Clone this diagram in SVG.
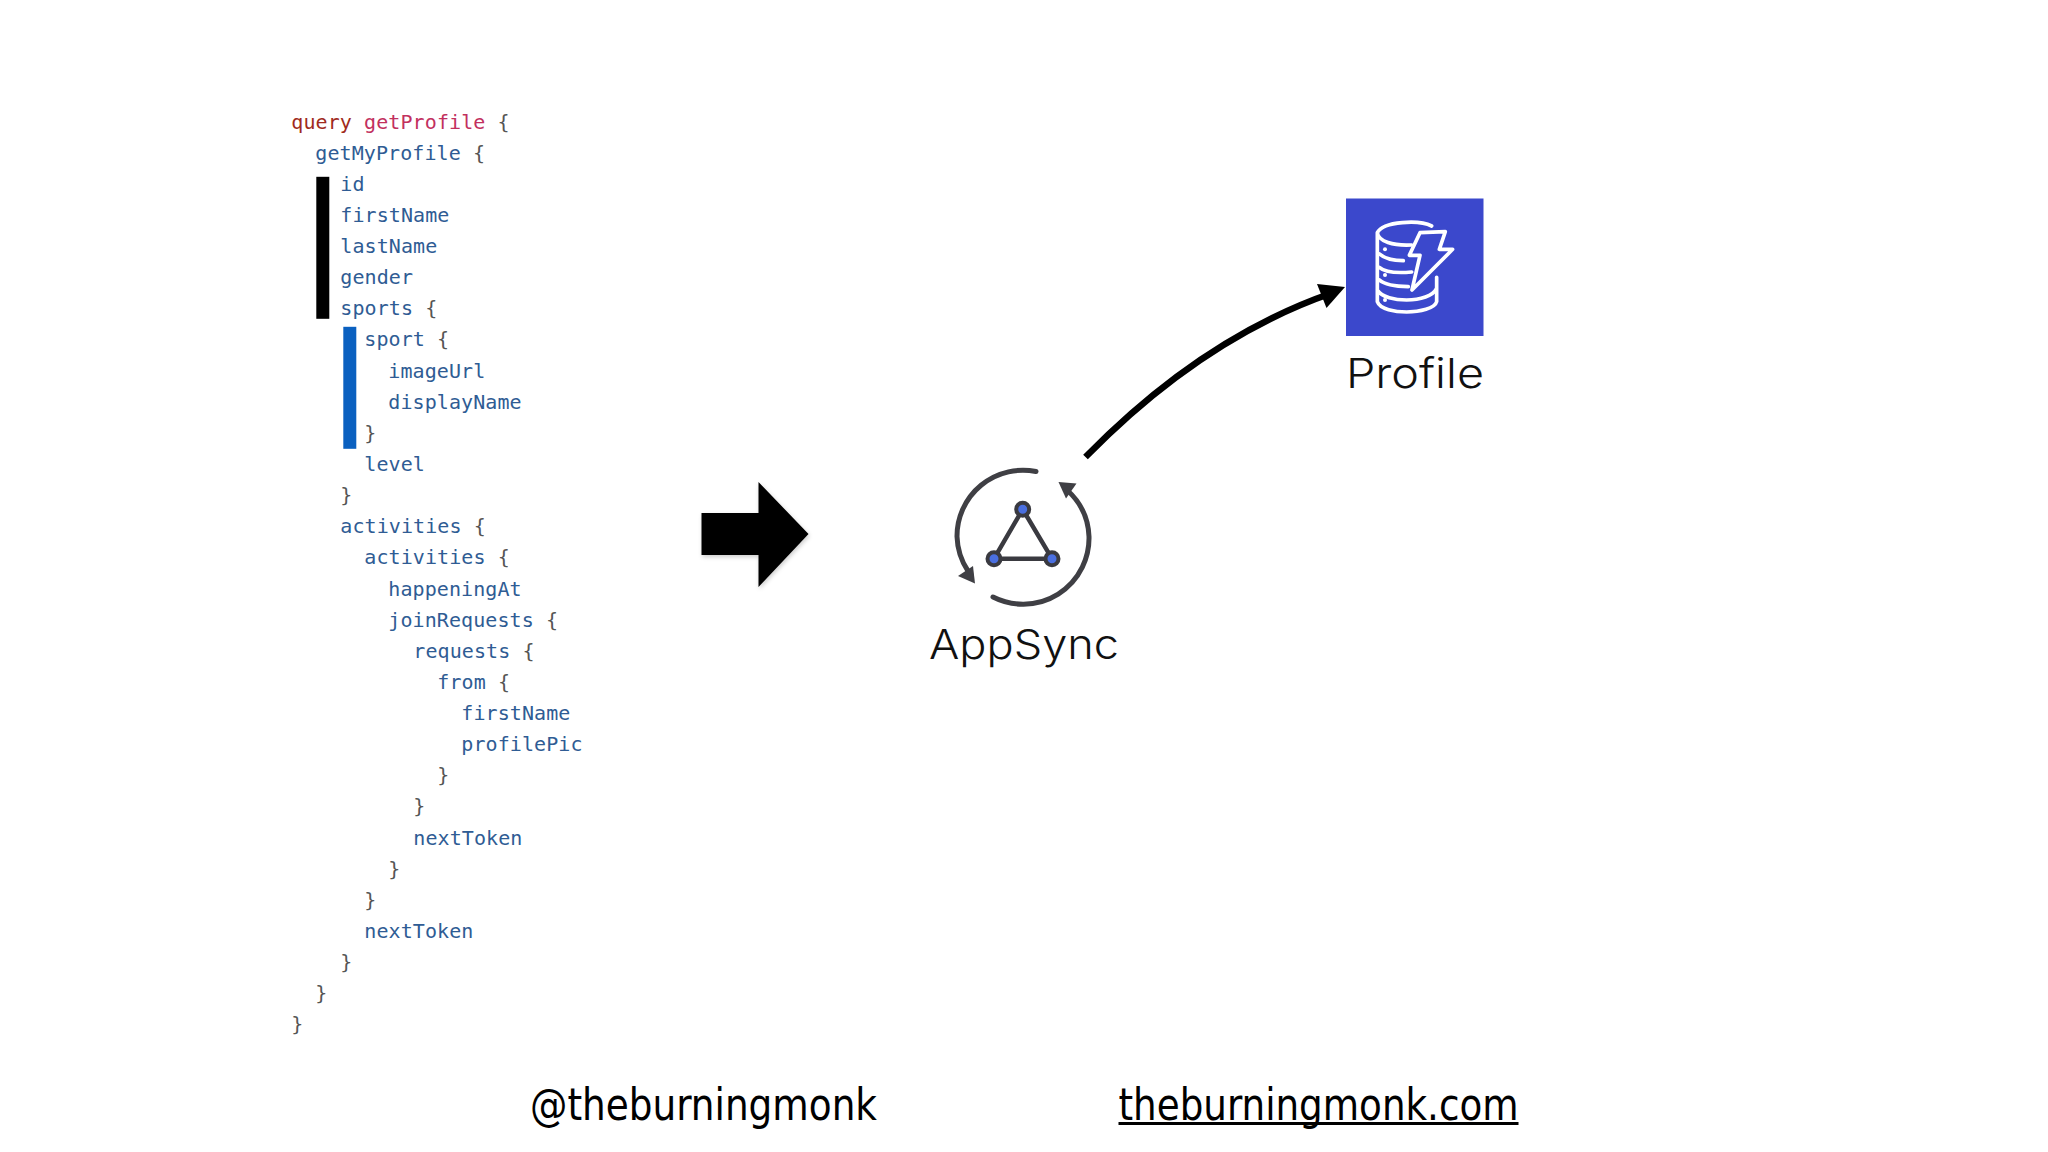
<svg xmlns="http://www.w3.org/2000/svg" width="2048" height="1152" viewBox="0 0 2048 1152">
<defs>
<style>
.c{font-family:"DejaVu Sans Mono","Liberation Mono",monospace;font-size:20px;letter-spacing:.09px;fill:#2f5c94}
.p{fill:#555}
.k{fill:#a02a20}
.n{fill:#c2305e}
.lbl{font-family:Inter,"Noto Sans",sans-serif;font-size:41px;font-weight:300;fill:#111}
.foot{font-family:"DejaVu Sans Condensed","DejaVu Sans",sans-serif;font-size:45px;fill:#000}
.ring{fill:none;stroke:#3f3f44;stroke-width:5;stroke-linecap:round}
.dot{fill:#4a6fe0;stroke:#3a3a40;stroke-width:4}
.db{fill:none;stroke:#fff;stroke-width:11;stroke-linecap:round;stroke-linejoin:round}
</style>
<filter id="sh" x="-10%" y="-10%" width="125%" height="125%"><feDropShadow dx="1" dy="2" stdDeviation="2" flood-color="#000" flood-opacity=".2"/></filter>
</defs>
<rect width="2048" height="1152" fill="#fff"/>
<g id="code" transform="translate(0.300 -1.200)">
<rect x="316" y="178" width="13" height="142" fill="#000"/>
<rect x="343" y="328" width="13" height="122" fill="#0a60c0"/>
<text class="c" x="291" y="130"><tspan class="k">query</tspan> <tspan class="n">getProfile</tspan> <tspan class="p">{</tspan></text>
<text class="c" x="315" y="161">getMyProfile <tspan class="p">{</tspan></text>
<text class="c" x="340" y="192">id</text>
<text class="c" x="340" y="223">firstName</text>
<text class="c" x="340" y="254.500">lastName</text>
<text class="c" x="340" y="285.500">gender</text>
<text class="c" x="340" y="316.500">sports <tspan class="p">{</tspan></text>
<text class="c" x="364" y="347.500">sport <tspan class="p">{</tspan></text>
<text class="c" x="388" y="379">imageUrl</text>
<text class="c" x="388" y="410">displayName</text>
<text class="c p" x="364" y="441">}</text>
<text class="c" x="364" y="472">level</text>
<text class="c p" x="340" y="503.500">}</text>
<text class="c" x="340" y="534.500">activities <tspan class="p">{</tspan></text>
<text class="c" x="364" y="565.500">activities <tspan class="p">{</tspan></text>
<text class="c" x="388" y="597">happeningAt</text>
<text class="c" x="388" y="628">joinRequests <tspan class="p">{</tspan></text>
<text class="c" x="413" y="659">requests <tspan class="p">{</tspan></text>
<text class="c" x="437" y="690">from <tspan class="p">{</tspan></text>
<text class="c" x="461" y="721">firstName</text>
<text class="c" x="461" y="752">profilePic</text>
<text class="c p" x="437" y="783.500">}</text>
<text class="c p" x="413" y="814.500">}</text>
<text class="c" x="413" y="846">nextToken</text>
<text class="c p" x="388" y="877">}</text>
<text class="c p" x="364" y="908">}</text>
<text class="c" x="364" y="939">nextToken</text>
<text class="c p" x="340" y="970">}</text>
<text class="c p" x="315" y="1001">}</text>
<text class="c p" x="291" y="1032">}</text>
</g>
<g id="connectors">
<polygon id="block-arrow" points="701.500,513 758.500,513 758.500,482 808.500,534 758.500,587 758.500,555 701.500,555" fill="#000" filter="url(#sh)"/>
<path d="M1085.500 457 Q1202 338 1332 293" fill="none" stroke="#000" stroke-width="6.500"/>
<polygon points="1345,287 1317,284 1326.500,308" fill="#000"/>
</g>
<g id="appsync">
<path class="ring" d="M1036 471.500 A66 66 0 0 0 957 536.500 A66 66 0 0 0 968 571"/>
<polygon points="975,583.500 958,576 973,566" fill="#3f3f44"/>
<path class="ring" d="M993 597 A66 66 0 0 0 1089 536.500 A66 66 0 0 0 1067 490"/>
<polygon points="1058.500,482 1076.500,483.500 1066,498.500" fill="#3f3f44"/>
<path d="M1022.700 509.300 L994 558.700 H1052 Z" fill="none" stroke="#3a3a40" stroke-width="4.500"/>
<circle class="dot" cx="1022.700" cy="509.300" r="6.500"/>
<circle class="dot" cx="994" cy="558.700" r="6.500"/>
<circle class="dot" cx="1052" cy="558.700" r="6.500"/>
<text class="lbl" x="929" y="659" textLength="190" lengthAdjust="spacingAndGlyphs">AppSync</text>
</g>
<g id="profile">
<rect x="1346" y="198.500" width="137.500" height="137.500" fill="#3b48cc"/>
<g transform="translate(1340 190) scale(.3333)">
<path class="db" d="M275 108C240 90 130 92 112 128C115 155 160 168 215 165M112 128V335C120 358 165 366 200 366C240 366 285 355 290 335V262M118 192C135 207 160 212 190 212M118 232C135 247 170 250 215 246M118 270C135 285 165 290 205 290M112 300C125 322 165 330 200 330C240 330 280 318 290 295"/>
<polygon class="db" points="240,128 316,125 298,178 338,178 216,300 240,196 208,196"/>
<circle cx="135" cy="178" r="6" fill="#fff"/><circle cx="135" cy="255" r="6" fill="#fff"/><circle cx="135" cy="330" r="6" fill="#fff"/>
</g>
<text class="lbl" x="1346" y="388" textLength="138" lengthAdjust="spacingAndGlyphs">Profile</text>
</g>
<g id="footer">
<text class="foot" x="530" y="1120" textLength="347" lengthAdjust="spacingAndGlyphs">@theburningmonk</text>
<text class="foot" x="1118.500" y="1120" textLength="400" lengthAdjust="spacingAndGlyphs">theburningmonk.com</text>
<rect x="1118.500" y="1122" width="400" height="3" fill="#000"/>
</g>
</svg>
